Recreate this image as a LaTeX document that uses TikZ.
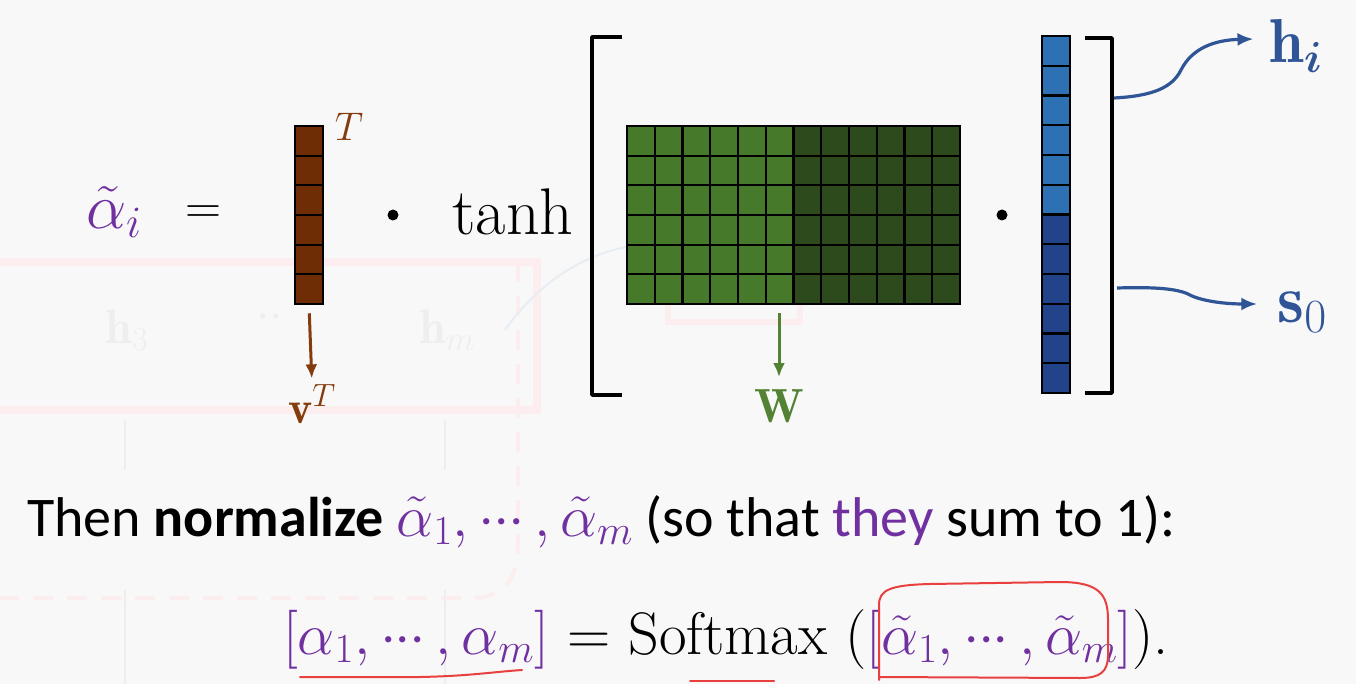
\RequirePackage{fix-cm}
\documentclass[tikz,border=0pt]{standalone}
\usepackage{amsmath}
\usepackage{fontspec}
\newfontfamily\calibri{Carlito}
\usetikzlibrary{arrows.meta}
\newcommand\mydots{\mathinner{\cdotp\mkern-3.5mu\cdotp\mkern-3.5mu\cdotp}}
\definecolor{bg}{HTML}{F8F8F8}
\definecolor{apurple}{HTML}{7030A0}
\definecolor{vbrown}{HTML}{6E2D05}
\definecolor{tbrown}{HTML}{843C0C}
\definecolor{glight}{HTML}{467A2A}
\definecolor{gdark}{HTML}{2D4A1C}
\definecolor{glabel}{HTML}{548235}
\definecolor{blight}{HTML}{2E70B4}
\definecolor{bdark}{HTML}{22428A}
\definecolor{bcurve}{HTML}{2F5597}
\definecolor{pen}{HTML}{E8403F}
\definecolor{faintred}{HTML}{FCEEEE}
\definecolor{faintgray}{HTML}{EEEEEE}
\definecolor{faintblue}{HTML}{E8EDF3}
\tikzset{
  cellline/.style={black, line width=2.2},
  vecbox/.style={draw=black, line width=2.6, inner sep=0, minimum width=28},
  brkt/.style={black, line width=3.6, line join=round},
  bdot/.style={circle, fill=black, minimum size=11, inner sep=0},
  lbl/.style={inner sep=0},
  penline/.style={pen, line width=2, line cap=round, line join=round},
  fline/.style={faintred, line width=8},
}
\begin{document}
\begin{tikzpicture}[x=1pt,y=-1pt]
\useasboundingbox (0,0) rectangle (1356,684);
\fill[bg] (0,0) rectangle (1356,684);

% faint leftover background
\draw[fline] (0,262) -- (537,262) -- (537,410) -- (0,410);
\draw[faintred, line width=4, dash pattern=on 20pt off 14pt] (518,262) -- (518,540) .. controls (518,580) and (505,598) .. (470,598) -- (0,598);
\draw[faintred, line width=6] (668,300) rectangle (800,322);
\draw[faintblue, line width=2] (505,330) .. controls (540,280) and (590,250) .. (640,245);
\node[lbl, text=faintgray, font=\fontsize{48}{50}\selectfont] (f3) at (127,330) {$\mathbf{h}_3$};
\node[lbl, text=faintgray, font=\fontsize{48}{50}\selectfont] (fm) at (447,330) {$\mathbf{h}_m$};
\node[lbl, text=faintgray, font=\fontsize{48}{50}\selectfont] (fd) at (270,318) {$\cdot\cdot$};
\draw[faintgray, line width=2] (125,470) -- (125,420);
\draw[faintgray, line width=2] (445,470) -- (445,420);
\draw[faintgray, line width=2] (125,684) -- (125,590);
\draw[faintgray, line width=2] (445,684) -- (445,590);

% alpha_i =
\node[lbl, text=apurple, font=\fontsize{64}{68}\selectfont] (ai) at (114,212) {$\tilde{\alpha}_i$};
\node[lbl, font=\fontsize{50}{56}\selectfont] (eq) at (203,215) {$=$};

% v^T vector
\node[vecbox, fill=vbrown, minimum height=178] (vT) at (309,215) {};
\foreach \k in {1,...,5} \draw[cellline] (295,126+\k*29.67) -- (323,126+\k*29.67);
\node[vecbox, minimum height=178] at (309,215) {};
\node[lbl, text=tbrown, font=\fontsize{40}{44}\selectfont] (Tsup) at (349,127) {$T$};
\node[lbl, text=tbrown, font=\fontsize{46}{50}\selectfont] (vlab) at (312,404) {$\mathbf{v}^{T}$};
\draw[tbrown, line width=3, -{Latex[length=14pt,width=12pt]}, shorten <=8pt, shorten >=6pt] (vT.south) -- (vlab.north);

\node[bdot] (d1) at (393,215) {};
\node[lbl, font=\fontsize{66}{70}\selectfont, anchor=base] (tanh) at (513,235) {tanh};

% left bracket
\draw[brkt] (622,37) -- (592,37) -- (592,395) -- (622,395);

% W matrix
\fill[glight] (627,126) rectangle (793.5,304);
\fill[gdark] (793.5,126) rectangle (960,304);
\foreach \k in {1,...,11} \draw[cellline] (627+\k*27.75,126) -- (627+\k*27.75,304);
\foreach \k in {1,...,5} \draw[cellline] (627,126+\k*29.67) -- (960,126+\k*29.67);
\node[draw=black, line width=2.6, inner sep=0, minimum width=333, minimum height=178] (Wm) at (793.5,215) {};
\node[lbl, text=glabel, font=\fontsize{48}{52}\selectfont] (Wlab) at (779,406) {$\mathbf{W}$};
\draw[glabel, line width=3, -{Latex[length=14pt,width=12pt]}, shorten <=8pt, shorten >=12pt] (Wm.south -| Wlab) -- (Wlab.north);

\node[bdot] (d2) at (1002,215) {};

% blue vector
\fill[blight] (1042,36) rectangle (1070,214.5);
\fill[bdark] (1042,214.5) rectangle (1070,393);
\foreach \k in {1,...,11} \draw[cellline] (1042,36+\k*29.75) -- (1070,36+\k*29.75);
\node[vecbox, minimum height=357] (hs) at (1056,214.5) {};

% right bracket
\draw[brkt] (1085,38) -- (1112,38) -- (1112,393) -- (1085,393);

% outputs
\node[lbl, text=bcurve, font=\fontsize{62}{66}\selectfont] (hlab) at (1296,46) {$\mathbf{h}_{\boldsymbol{i}}$};
\node[lbl, text=bcurve, font=\fontsize{68}{72}\selectfont] (slab) at (1302,312) {$\mathbf{s}_0$};
\coordinate (hstart) at (1114,98);
\coordinate (sstart) at (1117,288);
\draw[bcurve, line width=3.2, -{Latex[length=16pt,width=13pt]}] (hstart) .. controls (1152,96) and (1172,88) .. (1181,70) .. controls (1192,48) and (1215,40) .. ([xshift=-16pt]hlab.west |- 0,39);
\draw[bcurve, line width=3.2, -{Latex[length=16pt,width=13pt]}] (sstart) .. controls (1150,287) and (1175,288) .. (1188,294) .. controls (1200,301) and (1225,304) .. ([xshift=-20pt]slab.west |- 0,304);

% text lines
\node[lbl, anchor=base west, font=\calibri\fontsize{56}{60}\selectfont] (line1) at (27,536)
  {Then \textbf{normalize} \textcolor{apurple}{\fontsize{59}{62}\selectfont$\tilde{\alpha}_1, \mydots, \tilde{\alpha}_m$} (so that \textcolor{apurple}{they} sum to 1):};
\node[lbl, anchor=base, font=\fontsize{60}{64}\selectfont] (line2) at (726,654)
  {\textcolor{apurple}{\fontsize{59}{62}\selectfont$[\alpha_1, \mydots, \alpha_m]$} $=$ Softmax (\textcolor{apurple}{\fontsize{59}{62}\selectfont$[\tilde{\alpha}_1, \mydots, \tilde{\alpha}_m]$}).};

% red pen annotations
\draw[penline] (300,677) -- (420,677) .. controls (470,676) and (492,672) .. (522,670);
\draw[penline] (690,681) -- (774,681);
\draw[penline] (879,680) -- (879,605) .. controls (879,590) and (890,585) .. (930,584) -- (1060,582) .. controls (1100,582) and (1108,595) .. (1108,620) -- (1108,655) .. controls (1108,672) and (1100,678) .. (1080,678) -- (879,677);
\end{tikzpicture}
\end{document}
